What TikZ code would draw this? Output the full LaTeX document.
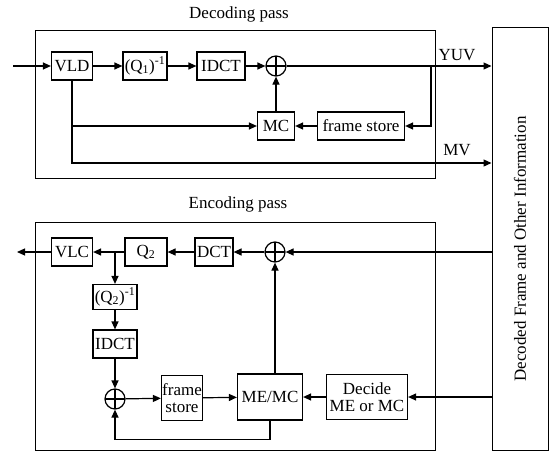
\documentclass[tikz,border=0pt]{standalone}
\usepackage{fontspec}
\setmainfont{Liberation Serif}
\usetikzlibrary{arrows.meta}
\begin{document}
\begin{tikzpicture}[x=1pt,y=-1pt,line width=1.2pt,
	every node/.style={font=\fontsize{17}{16.5}\selectfont},
	blk/.style={draw,minimum height=28pt,inner sep=0.5pt,align=center},
	sumnode/.style={draw,circle,minimum size=20pt,inner sep=0pt,
		path picture={\draw ([xshift=-10pt]path picture bounding box.center)--([xshift=10pt]path picture bounding box.center)
			([yshift=-10pt]path picture bounding box.center)--([yshift=10pt]path picture bounding box.center);}},
	flow/.style={-{Triangle[length=8pt,width=7pt]}}]
	\useasboundingbox (0,0) rectangle (556,452);

	% the two passes and the shared store
	\draw[line width=1pt] (35,31) rectangle (435,178);
	\draw[line width=1pt] (35,222) rectangle (435,450);
	\node[draw,line width=1pt,minimum width=56pt,minimum height=422pt,inner sep=0pt] (info) at (520,239) {};
	\node[rotate=90] (infotext) at (520,249) {Decoded Frame and Other Information};
	\node (dectitle) at (239,14) {Decoding pass};
	\node (enctitle) at (238,204) {Encoding pass};

	% decoding pass
	\coordinate (in) at (13,66);
	\node[blk,minimum width=41pt] (vld) at (72,66) {VLD};
	\node[blk,minimum width=44pt] (qinv1) at (145,66) {(Q\textsubscript{1})\textsuperscript{-1}};
	\node[blk,minimum width=48pt] (idct1) at (221,66) {IDCT};
	\node[sumnode] (sum1) at (276,66) {};
	\node[blk,minimum width=37pt] (mc) at (276,126) {MC};
	\node[blk,minimum width=87pt] (store1) at (361,126) {frame store};
	\coordinate (tap) at (431,66);
	\coordinate (mvy) at (72,163);
	\node (yuv) at (457,55) {YUV};
	\node (mv) at (457,150) {MV};

	\draw[flow] (in) -- (vld);
	\draw[flow] (vld) -- (qinv1);
	\draw[flow] (qinv1) -- (idct1);
	\draw[flow] (idct1) -- (sum1);
	\draw[flow] (sum1) -- (sum1 -| info.west);
	\draw[flow] (tap) |- (store1);
	\draw[flow] (store1) -- (mc);
	\draw[flow] (mc) -- (sum1);
	\draw[flow] (vld.south) |- (mc);
	\draw[flow] (vld.south) -- (mvy) -- (mvy -| info.west);

	% encoding pass
	\node[blk,minimum width=41pt] (vlc) at (72,252) {VLC};
	\node[blk,minimum width=42pt] (q2) at (146,252) {Q\textsubscript{2}};
	\node[blk,minimum width=38pt] (dct) at (214,252) {DCT};
	\node[sumnode] (sum2) at (275,252) {};
	\coordinate (out) at (17,252);
	\coordinate (split) at (115,252);
	\node[blk,minimum width=44pt,minimum height=25pt] (qinv2) at (115,297) {(Q\textsubscript{2})\textsuperscript{-1}};
	\node[blk,minimum width=44pt] (idct2) at (115,344) {IDCT};
	\node[sumnode] (sum3) at (115,399) {};
	\node[blk,minimum width=41pt,minimum height=45pt] (store2) at (182,398) {frame\\store};
	\node[blk,minimum width=65pt,minimum height=46pt] (memc) at (270,397) {ME/MC};
	\node[blk,minimum width=81pt,minimum height=45pt] (decide) at (367,397) {Decide\\ME or MC};

	\draw[flow] (sum2 -| info.west) -- (sum2);
	\draw[flow] (sum2) -- (dct);
	\draw[flow] (dct) -- (q2);
	\draw[flow] (q2) -- (vlc);
	\draw[flow] (vlc) -- (out);
	\draw[flow] (split) -- (qinv2);
	\draw[flow] (qinv2) -- (idct2);
	\draw[flow] (idct2) -- (sum3);
	\draw[flow] (sum3) -- (store2);
	\draw[flow] (store2) -- (memc);
	\draw[flow] (decide -| info.west) -- (decide);
	\draw[flow] (decide) -- (memc);
	\draw[flow] (memc.north -| sum2) -- (sum2);
	\draw[flow] (memc.south) -- ++(0,19) -| (sum3);
\end{tikzpicture}
\end{document}
